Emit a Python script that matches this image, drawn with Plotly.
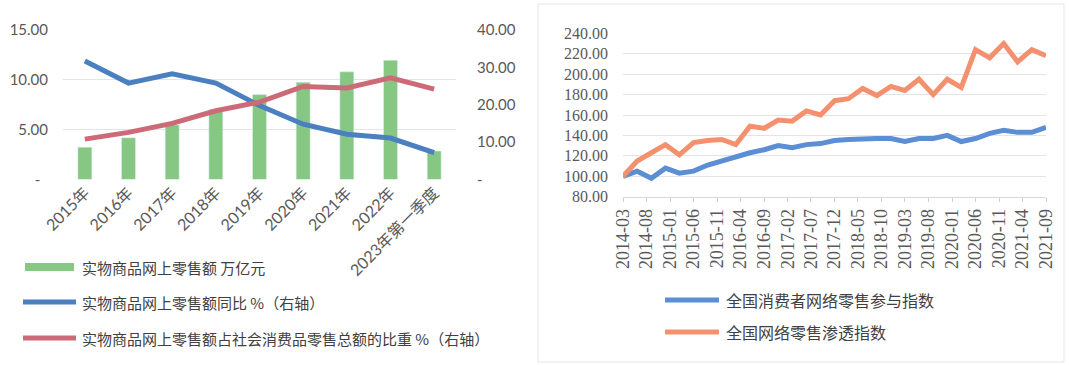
import plotly.graph_objects as go

# ---- left panel: annual online retail sales of physical goods ----
years = ["2015年", "2016年", "2017年", "2018年", "2019年", "2020年", "2021年", "2022年", "2023年第一季度"]
sales = [3.24, 4.19, 5.48, 7.02, 8.52, 9.76, 10.80, 11.96, 2.86]          # 万亿元
growth = [31.7, 25.8, 28.3, 25.8, 19.8, 14.8, 12.1, 11.1, 7.2]           # 同比 %
share = [10.8, 12.6, 15.0, 18.4, 20.7, 24.9, 24.5, 27.2, 24.2]           # 占比 %

left_names = ["实物商品网上零售额 万亿元",
              "实物商品网上零售额同比 %（右轴）",
              "实物商品网上零售额占社会消费品零售总额的比重 %（右轴）"]

# ---- right panel: quarterly online retail indices ----
quarters = ["2014-03", "2014-06", "2014-09", "2014-12",
            "2015-03", "2015-06", "2015-09", "2015-12",
            "2016-03", "2016-06", "2016-09", "2016-12",
            "2017-03", "2017-06", "2017-09", "2017-12",
            "2018-03", "2018-06", "2018-09", "2018-12",
            "2019-03", "2019-06", "2019-09", "2019-12",
            "2020-03", "2020-06", "2020-09", "2020-12",
            "2021-03", "2021-06", "2021-09"]
participation = [100, 105, 98, 108, 103, 105, 111, 115, 120, 123, 126,
                 130, 128, 131, 132, 135, 136, 137, 137, 137, 134, 137,
                 137, 140, 134, 137, 142, 145, 143, 143, 148]
penetration = [100, 115, 123, 131, 121, 133, 135, 136, 131, 149, 147,
               155, 154, 164, 160, 174, 176, 186, 179, 188, 184, 195,
               180, 195, 187, 224, 216, 230, 212, 224, 218]
right_names = ["全国消费者网络零售参与指数", "全国网络零售渗透指数"]

GREEN = "#86c783"
BLUE = "#4a7fc0"
RED = "#cd6a77"
IDX_BLUE = "#5b8ed2"
IDX_ORANGE = "#f3916e"
GRID = "#e4e4e4"
TXT = "#595959"
SERIF = '"Liberation Serif", "DejaVu Serif", serif'

fig = go.Figure()

fig.add_trace(go.Bar(x=years, y=sales, name=left_names[0], marker_color=GREEN,
                     width=0.32, xaxis="x", yaxis="y", showlegend=False))
fig.add_trace(go.Scatter(x=years, y=growth, name=left_names[1], mode="lines",
                         line=dict(color=BLUE, width=5), xaxis="x", yaxis="y2",
                         showlegend=False))
fig.add_trace(go.Scatter(x=years, y=share, name=left_names[2], mode="lines",
                         line=dict(color=RED, width=5), xaxis="x", yaxis="y2",
                         showlegend=False))

qdates = [q + "-01" for q in quarters]
fig.add_trace(go.Scatter(x=qdates, y=participation, name=right_names[0], mode="lines",
                         line=dict(color=IDX_BLUE, width=5), xaxis="x3", yaxis="y3",
                         showlegend=False))
fig.add_trace(go.Scatter(x=qdates, y=penetration, name=right_names[1], mode="lines",
                         line=dict(color=IDX_ORANGE, width=5), xaxis="x3", yaxis="y3",
                         showlegend=False))

W, H = 1069, 365


def px(x):
    return x / W


def py(y):
    return 1 - y / H


fig.update_layout(
    width=W, height=H,
    margin=dict(l=0, r=0, t=0, b=0, autoexpand=False),
    paper_bgcolor="white", plot_bgcolor="white",
    xaxis=dict(domain=[px(63), px(456)], type="category", anchor="y",
               automargin=False,
               tickangle=-45, showgrid=False, showline=False, ticks="",
               tickfont=dict(family="Lato, Noto Sans CJK SC", size=16, color=TXT)),
    yaxis=dict(domain=[py(179.5), py(30)], range=[0, 15], anchor="x",
               automargin=False,
               tickvals=[0, 5, 10, 15], ticktext=["-  ", "5.00", "10.00", "15.00"],
               gridcolor=GRID, gridwidth=1, zeroline=False, showline=False,
               ticklabelstandoff=14,
               tickfont=dict(family="Lato", size=15, color=TXT)),
    yaxis2=dict(overlaying="y", side="right", range=[0, 40], anchor="x",
                automargin=False,
                tickvals=[0, 10, 20, 30, 40],
                ticktext=["-  ", "10.00", "20.00", "30.00", "40.00"],
                showgrid=False, zeroline=False, showline=False,
                ticklabelstandoff=20,
                tickfont=dict(family="Lato", size=15, color=TXT)),
    xaxis3=dict(domain=[px(623), px(1046)], type="date", anchor="y3",
                automargin=False,
                range=["2014-03-01", "2021-09-01"],
                tick0="2014-03-01", dtick="M5", tickformat="%Y-%m",
                tickangle=-90, ticks="outside", ticklen=4, tickcolor="#d0d0d0",
                showgrid=False, showline=True, linecolor="#d9d9d9",
                tickfont=dict(family=SERIF, size=18, color=TXT)),
    yaxis3=dict(domain=[py(196.7), py(33.3)], range=[80, 240], anchor="x3",
                automargin=False,
                dtick=20, tickformat=".2f", gridcolor=GRID, zeroline=False,
                showline=False, ticklabelstandoff=14,
                tickfont=dict(family=SERIF, size=16, color=TXT)),
)

# legend keys and labels drawn below each panel
shapes = []
annotations = []
left_keys = [(267, GREEN, "rect"), (302, BLUE, "line"), (338, RED, "line")]
for (y, color, kind), name in zip(left_keys, left_names):
    if kind == "rect":
        shapes.append(dict(type="rect", xref="paper", yref="paper",
                           x0=px(25), x1=px(74), y0=py(y + 4), y1=py(y - 4),
                           fillcolor=color, line=dict(width=0)))
    else:
        shapes.append(dict(type="line", xref="paper", yref="paper",
                           x0=px(23), x1=px(76), y0=py(y), y1=py(y),
                           line=dict(color=color, width=5)))
    annotations.append(dict(xref="paper", yref="paper", x=px(80), y=py(y),
                            text=name, showarrow=False, xanchor="left",
                            yanchor="middle",
                            font=dict(family="Noto Sans CJK SC", size=15, color="#404040")))

right_keys = [(300, IDX_BLUE), (332, IDX_ORANGE)]
for (y, color), name in zip(right_keys, right_names):
    shapes.append(dict(type="line", xref="paper", yref="paper",
                       x0=px(665), x1=px(719), y0=py(y), y1=py(y),
                       line=dict(color=color, width=5)))
    annotations.append(dict(xref="paper", yref="paper", x=px(724), y=py(y),
                            text=name, showarrow=False, xanchor="left",
                            yanchor="middle",
                            font=dict(family="Noto Sans CJK SC", size=16, color="#404040")))

# thin frame around the right panel
shapes.append(dict(type="rect", xref="paper", yref="paper",
                   x0=px(538), x1=px(1064), y0=py(362), y1=py(4),
                   line=dict(color="#e6e6e6", width=1)))

fig.update_layout(shapes=shapes, annotations=annotations)

fig.write_html("out.html")
